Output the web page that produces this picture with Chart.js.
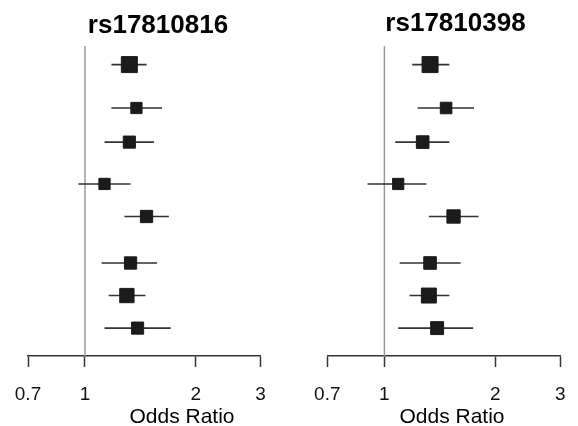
<!DOCTYPE html>
<html>
<head>
<meta charset="utf-8">
<script src="https://cdn.jsdelivr.net/npm/chart.js@4.4.0/dist/chart.umd.min.js"></script>
<style>
html, body { margin: 0; padding: 0; background: #fff; overflow: hidden; width: 578px; height: 426px; position: relative; }
canvas { position: absolute; top: 0; }
</style>
</head>
<body>
<canvas id="chart-left" width="301" height="426" style="left:-12px"></canvas>
<canvas id="chart-right" width="320" height="426" style="left:289px"></canvas>
<script>
// row positions (top to bottom), shared by both panels
var rowPos = [0.6, 2.0, 3.1, 4.45, 5.5, 7.0, 8.05, 9.1];
var xTicks = [0.7, 1, 2, 3];

// rs17810816
var leftOR = [1.32, 1.38, 1.32, 1.13, 1.47, 1.33, 1.30, 1.39];
var leftLo = [1.18, 1.18, 1.13, 0.96, 1.28, 1.11, 1.16, 1.13];
var leftHi = [1.47, 1.62, 1.54, 1.33, 1.69, 1.57, 1.46, 1.71];
var leftWeights = [1.00, 0.72, 0.77, 0.72, 0.78, 0.78, 0.90, 0.77];

// rs17810398
var rightOR = [1.33, 1.47, 1.27, 1.09, 1.54, 1.33, 1.32, 1.39];
var rightLo = [1.19, 1.23, 1.07, 0.90, 1.32, 1.10, 1.17, 1.09];
var rightHi = [1.50, 1.75, 1.50, 1.30, 1.80, 1.61, 1.50, 1.74];
var rightWeights = [1.00, 0.74, 0.80, 0.72, 0.84, 0.80, 0.94, 0.82];

var BOX_MAX = 17;

var panelText = {
    id: 'panelText',
    afterDraw: function(chart, args, opts) {
        var ctx = chart.ctx;
        ctx.save();
        ctx.fillStyle = '#000';
        ctx.textAlign = 'center';
        ctx.textBaseline = 'alphabetic';
        ctx.font = 'bold 26px "Liberation Sans", Arial, sans-serif';
        ctx.fillText(opts.title, opts.titleX, opts.titleY);
        ctx.font = '21px "Liberation Sans", Arial, sans-serif';
        ctx.fillText('Odds Ratio', opts.labelX, 423);
        ctx.restore();
    }
};

function makePanel(id, or, lo, hi, weights, text, padLeft, padRight) {
    var boxes = or.map(function(v, i) { return {x: v, y: rowPos[i]}; });
    var whiskers = [];
    lo.forEach(function(l, i) {
        whiskers.push({x: l, y: rowPos[i]}, {x: hi[i], y: rowPos[i]}, {x: hi[i], y: null});
    });
    var radii = weights.map(function(w) { return (w * BOX_MAX - 1) / (2 * Math.SQRT1_2); });

    return new Chart(document.getElementById(id), {
        type: 'scatter',
        data: {
            datasets: [
                {
                    data: boxes,
                    pointStyle: 'rect',
                    pointRadius: radii,
                    pointHoverRadius: radii,
                    backgroundColor: '#1b1b1b',
                    borderColor: '#1b1b1b',
                    borderWidth: 1
                },
                {
                    data: whiskers,
                    showLine: true,
                    spanGaps: false,
                    pointRadius: 0,
                    borderColor: '#333',
                    borderWidth: 1.6
                },
                {
                    data: [{x: 1, y: 0}, {x: 1, y: 10}],
                    showLine: true,
                    pointRadius: 0,
                    borderColor: '#9a9a9a',
                    borderWidth: 1.5
                }
            ]
        },
        options: {
            responsive: false,
            animation: false,
            devicePixelRatio: 1,
            layout: { padding: { left: padLeft, right: padRight, top: 46, bottom: 0 } },
            plugins: {
                legend: { display: false },
                tooltip: { enabled: false },
                panelText: text
            },
            scales: {
                x: {
                    type: 'logarithmic',
                    min: 0.7,
                    max: 3,
                    afterBuildTicks: function(scale) {
                        scale.ticks = xTicks.map(function(v) { return {value: v}; });
                    },
                    afterFit: function(scale) { scale.height = 70; },
                    grid: {
                        drawOnChartArea: false,
                        drawTicks: true,
                        tickLength: 11,
                        tickColor: '#333',
                        tickWidth: 1.5
                    },
                    border: { display: true, color: '#333', width: 1.5 },
                    ticks: {
                        autoSkip: false,
                        maxRotation: 0,
                        padding: 16,
                        color: '#111',
                        font: { family: '"Liberation Sans", Arial, sans-serif', size: 19 },
                        callback: function(v) { return String(v); }
                    }
                },
                y: {
                    type: 'linear',
                    display: false,
                    reverse: true,
                    min: 0,
                    max: 10
                }
            }
        },
        plugins: [panelText]
    });
}

makePanel('chart-left', leftOR, leftLo, leftHi, leftWeights,
    {title: 'rs17810816', titleX: 170, titleY: 33, labelX: 194}, 40, 28.5);
makePanel('chart-right', rightOR, rightLo, rightHi, rightWeights,
    {title: 'rs17810398', titleX: 166.5, titleY: 31, labelX: 163}, 38.3, 48.7);
</script>
</body>
</html>
